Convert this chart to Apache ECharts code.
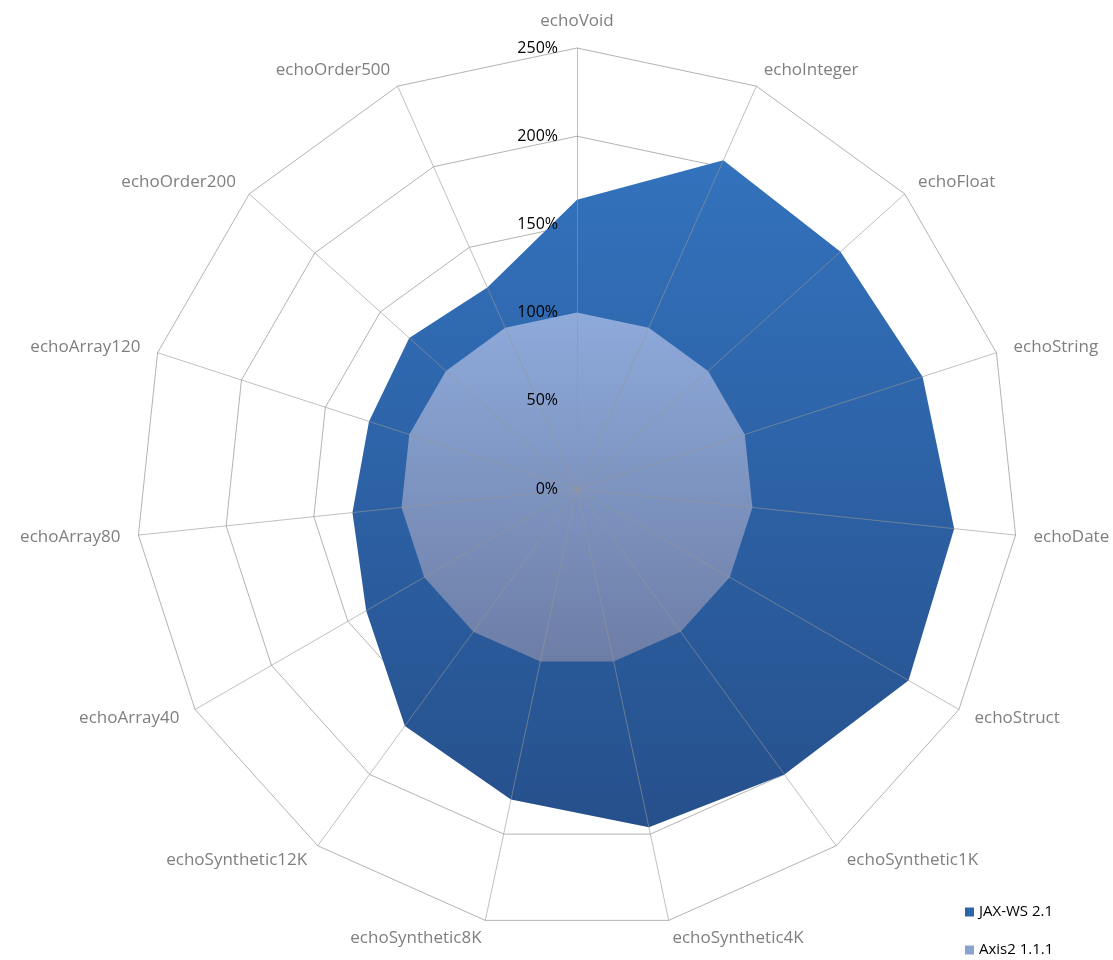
<!DOCTYPE html>
<html>
<head>
<meta charset="utf-8">
<script src="https://cdn.jsdelivr.net/npm/echarts@6/dist/echarts.min.js"></script>
<style>
  html,body{margin:0;padding:0;background:#fff;}
  #main{width:1113px;height:960px;}
</style>
</head>
<body>
<div id="main"></div>
<script>
// categories, clockwise from the top
var categories=['echoVoid','echoInteger','echoFloat','echoString','echoDate','echoStruct',
  'echoSynthetic1K','echoSynthetic4K','echoSynthetic8K','echoSynthetic12K',
  'echoArray40','echoArray80','echoArray120','echoOrder200','echoOrder500']
// values in %
var jaxws=[164,204,201,206,215,217,200,196,180,166,138,128,124,128,125]
var axis2=[100,100,100,100,100,100,100,100,100,100,100,100,100,100,100]
var seriesNames=['JAX-WS 2.1','Axis2 1.1.1']
var axisMax=250
var axisStep=50

// echarts radar lays indicators out counter-clockwise, so flip the order after the first
function toCcw(arr){
  return [arr[0]].concat(arr.slice(1).reverse())
}

var font='"Open Sans", "Noto Sans", sans-serif'
var center=[577,489]
var radius=441

var indicatorsBack=toCcw(categories).map(function(name){
  return {name:name,min:0,max:axisMax}
})
var indicatorsFront=toCcw(categories).map(function(name,i){
  var ind={name:name,min:0,max:axisMax}
  if(i==0){
    ind.axisLabel={show:true}
  }
  return ind
})

var chart=echarts.init(document.getElementById('main'),null,{renderer:'canvas'})

var option={
  backgroundColor:'#fff',
  animation:false,
  legend:{
    orient:'vertical',
    left:965,
    top:904,
    padding:0,
    itemWidth:9,
    itemHeight:9,
    itemGap:22,
    icon:'rect',
    data:seriesNames,
    textStyle:{fontFamily:font,fontSize:15,lineHeight:16,color:'#000'}
  },
  radar:[
    {
      // rings under the areas
      center:center,
      radius:radius,
      shape:'polygon',
      splitNumber:axisMax/axisStep,
      z:1,
      indicator:indicatorsBack,
      axisName:{show:false},
      splitLine:{lineStyle:{color:'#b4b4b4',width:1}},
      splitArea:{show:false},
      axisLine:{show:false},
      axisTick:{show:false},
      axisLabel:{show:false}
    },
    {
      // spokes, names and value labels on top
      center:center,
      radius:radius,
      shape:'polygon',
      splitNumber:axisMax/axisStep,
      z:3,
      nameGap:18,
      indicator:indicatorsFront,
      axisName:{color:'#7f7f7f',fontFamily:font,fontSize:17},
      splitLine:{show:false},
      splitArea:{show:false},
      axisLine:{lineStyle:{color:'rgba(150,150,150,0.6)',width:1}},
      axisTick:{show:false},
      axisLabel:{
        show:false,
        color:'#000',
        fontFamily:font,
        fontSize:16,
        margin:19,
        align:'right',
        padding:[4,0,0,0],
        formatter:function(v){return v+'%'}
      }
    }
  ],
  series:[{
    type:'radar',
    radarIndex:0,
    z:2,
    symbol:'none',
    data:[
      {
        name:seriesNames[0],
        value:toCcw(jaxws),
        itemStyle:{color:'#2e64a8'},
        lineStyle:{width:0},
        areaStyle:{
          opacity:1,
          color:new echarts.graphic.LinearGradient(0,0,0,1,[
            {offset:0,color:'#3372bd'},
            {offset:1,color:'#26508c'}
          ])
        }
      },
      {
        name:seriesNames[1],
        value:toCcw(axis2),
        itemStyle:{color:'#8aa4d2'},
        lineStyle:{width:0},
        areaStyle:{
          opacity:1,
          color:new echarts.graphic.LinearGradient(0,0,0,1,[
            {offset:0,color:'#8eaadb'},
            {offset:1,color:'#6d7ea6'}
          ])
        }
      }
    ]
  }]
}

chart.setOption(option)
</script>
</body>
</html>
